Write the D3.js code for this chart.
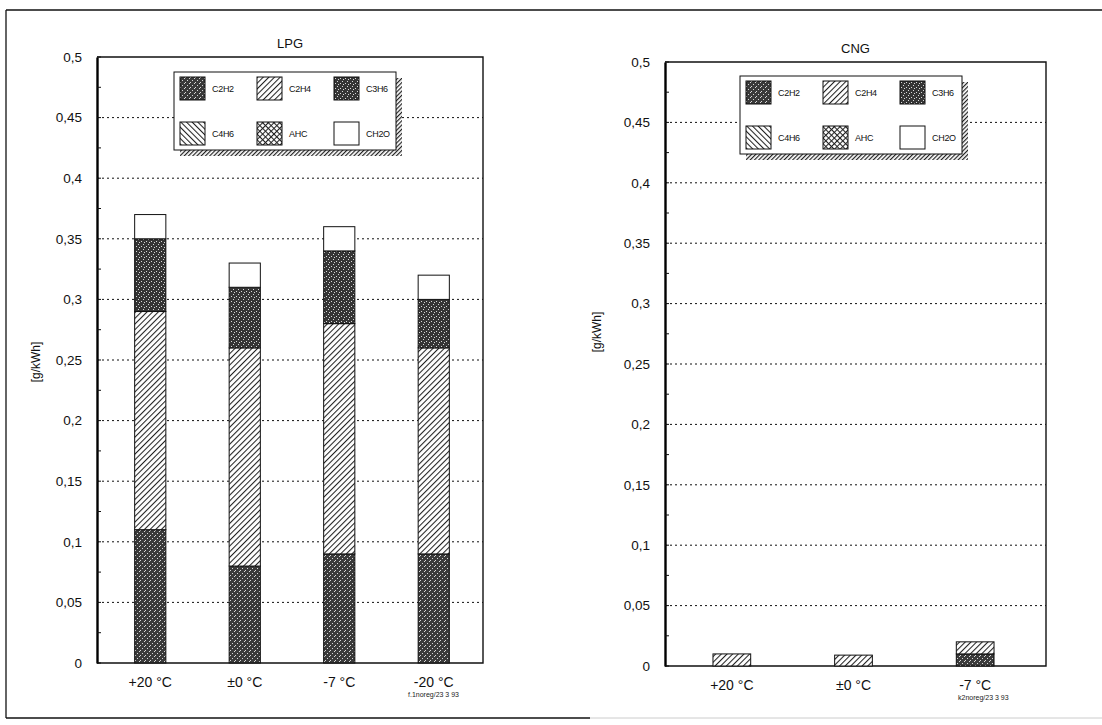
<!DOCTYPE html>
<html>
<head>
<meta charset="utf-8">
<script src="https://cdn.jsdelivr.net/npm/d3@7"></script>
<style>
  html, body { margin: 0; padding: 0; background: #fff; }
  svg { display: block; font-family: "Liberation Sans", Arial, sans-serif; }
</style>
</head>
<body>
<div id="chart"></div>
<script>
// series (stack order, bottom to top)
const seriesNames = ['C2H2', 'C2H4', 'C3H6', 'C4H6', 'AHC', 'CH2O'];

// LPG panel
const lpgCategories = ['+20 °C', '±0 °C', '-7 °C', '-20 °C'];
const lpgC2H2 = [0.11, 0.08, 0.09, 0.09];
const lpgC2H4 = [0.18, 0.18, 0.19, 0.17];
const lpgC3H6 = [0.06, 0.05, 0.06, 0.04];
const lpgC4H6 = [0, 0, 0, 0];
const lpgAHC = [0, 0, 0, 0];
const lpgCH2O = [0.02, 0.02, 0.02, 0.02];

// CNG panel
const cngCategories = ['+20 °C', '±0 °C', '-7 °C'];
const cngC2H2 = [0, 0, 0.01];
const cngC2H4 = [0.01, 0.009, 0.01];
const cngC3H6 = [0, 0, 0];
const cngC4H6 = [0, 0, 0];
const cngAHC = [0, 0, 0];
const cngCH2O = [0, 0, 0];

const yTicks = [0, 0.05, 0.1, 0.15, 0.2, 0.25, 0.3, 0.35, 0.4, 0.45, 0.5];

const W = 1102, H = 725;
const svg = d3.select('#chart').append('svg')
  .attr('width', W).attr('height', H);

// fill patterns that imitate the printed hatching
const defs = svg.append('defs');

function stipple(id, base, dots) {
  const p = defs.append('pattern').attr('id', id)
    .attr('width', 5).attr('height', 5).attr('patternUnits', 'userSpaceOnUse');
  p.append('rect').attr('width', 5).attr('height', 5).attr('fill', base);
  dots.forEach(([x, y]) => p.append('rect')
    .attr('x', x).attr('y', y).attr('width', 1).attr('height', 1).attr('fill', '#d8d8d8'));
}
stipple('pC2H2', '#3a3a3a', [[0, 0], [2, 3], [4, 1]]);
stipple('pC3H6', '#353535', [[1, 1], [3, 4], [4, 2]]);

function hatch(id, angle, gap, sw) {
  const p = defs.append('pattern').attr('id', id)
    .attr('width', gap).attr('height', gap).attr('patternUnits', 'userSpaceOnUse')
    .attr('patternTransform', `rotate(${angle})`);
  p.append('rect').attr('width', gap).attr('height', gap).attr('fill', '#fff');
  p.append('line').attr('x1', 0.5).attr('y1', 0).attr('x2', 0.5).attr('y2', gap)
    .attr('stroke', '#222').attr('stroke-width', sw);
}
hatch('pC2H4', 45, 4, 1.1);
hatch('pC4H6', -45, 4, 1.1);

const ahc = defs.append('pattern').attr('id', 'pAHC')
  .attr('width', 4).attr('height', 4).attr('patternUnits', 'userSpaceOnUse')
  .attr('patternTransform', 'rotate(45)');
ahc.append('rect').attr('width', 4).attr('height', 4).attr('fill', '#fff');
ahc.append('line').attr('x1', 0.5).attr('y1', 0).attr('x2', 0.5).attr('y2', 4).attr('stroke', '#222').attr('stroke-width', 1.1);
ahc.append('line').attr('x1', 0).attr('y1', 0.5).attr('x2', 4).attr('y2', 0.5).attr('stroke', '#222').attr('stroke-width', 1.1);

hatch('pShadow', 45, 3, 1.4);

const fills = {
  C2H2: 'url(#pC2H2)', C2H4: 'url(#pC2H4)', C3H6: 'url(#pC3H6)',
  C4H6: 'url(#pC4H6)', AHC: 'url(#pAHC)', CH2O: '#fff'
};

// outer page frame
svg.append('line').attr('x1', 6).attr('y1', 10).attr('x2', W).attr('y2', 10)
  .attr('stroke', '#111').attr('stroke-width', 1.3);
svg.append('line').attr('x1', 6).attr('y1', 10).attr('x2', 6).attr('y2', 718)
  .attr('stroke', '#111').attr('stroke-width', 1.3);
svg.append('line').attr('x1', 6).attr('y1', 718).attr('x2', 590).attr('y2', 718)
  .attr('stroke', '#111').attr('stroke-width', 1.3);
svg.append('line').attr('x1', 590).attr('y1', 718).attr('x2', W).attr('y2', 718)
  .attr('stroke', '#ccc').attr('stroke-width', 1);

function drawPanel(cfg) {
  const rows = cfg.categories.map((c, i) => {
    const r = { cat: c };
    seriesNames.forEach(s => r[s] = cfg.values[s][i]);
    return r;
  });
  const stacked = d3.stack().keys(seriesNames)(rows);

  const x = d3.scaleBand().domain(cfg.categories)
    .range(cfg.band).paddingInner(cfg.pad).paddingOuter(cfg.pad / 2);
  const y = d3.scaleLinear().domain([0, 0.5]).range([cfg.bottom, cfg.top]);

  const g = svg.append('g');

  // dotted grid
  g.append('g').selectAll('line')
    .data(yTicks.filter(t => t > 0 && t < 0.5))
    .join('line')
    .attr('x1', cfg.left).attr('x2', cfg.right)
    .attr('y1', d => y(d)).attr('y2', d => y(d))
    .attr('stroke', '#111').attr('stroke-width', 1)
    .attr('stroke-dasharray', '2 3');

  // plot frame (top, right, bottom)
  g.append('path')
    .attr('d', `M${cfg.left},${cfg.top}H${cfg.right}V${cfg.bottom}H${cfg.left}`)
    .attr('fill', 'none').attr('stroke', '#111').attr('stroke-width', 1.4);

  // bars
  g.append('g').selectAll('g')
    .data(stacked)
    .join('g')
    .attr('fill', d => fills[d.key])
    .selectAll('rect')
    .data(d => d.filter(p => p[1] - p[0] > 0))
    .join('rect')
    .attr('x', d => x(d.data.cat))
    .attr('width', x.bandwidth())
    .attr('y', d => y(d[1]))
    .attr('height', d => y(d[0]) - y(d[1]))
    .attr('stroke', '#111').attr('stroke-width', 1);

  // y axis
  const axis = g.append('g').attr('transform', `translate(${cfg.left},0)`)
    .call(d3.axisLeft(y).tickValues(yTicks).tickSize(0).tickPadding(15)
      .tickFormat(d => d3.format('~g')(d).replace('.', ',')));
  axis.select('.domain').attr('stroke', '#000').attr('stroke-width', 2.4);
  axis.selectAll('.tick text').attr('font-size', 13.5).attr('fill', '#111')
    .attr('font-family', '"Liberation Sans", Arial, sans-serif');

  // small inner ticks
  g.append('g').selectAll('line')
    .data(d3.range(0, 0.5001, 0.025))
    .join('line')
    .attr('x1', cfg.left).attr('x2', cfg.left + 4)
    .attr('y1', d => y(d)).attr('y2', d => y(d))
    .attr('stroke', '#111').attr('stroke-width', 1);

  // x axis labels
  g.append('g').selectAll('text')
    .data(cfg.categories)
    .join('text')
    .attr('x', d => x(d) + x.bandwidth() / 2)
    .attr('y', cfg.bottom + 24)
    .attr('text-anchor', 'middle')
    .attr('font-size', 14).attr('fill', '#111')
    .text(d => d);

  // title
  g.append('text')
    .attr('x', (cfg.left + cfg.right) / 2).attr('y', cfg.top - 9)
    .attr('text-anchor', 'middle').attr('font-size', 13).attr('fill', '#111')
    .text(cfg.title);

  // y label
  g.append('text')
    .attr('transform', `translate(${cfg.yLabelX},${cfg.yLabelY}) rotate(-90)`)
    .attr('text-anchor', 'middle').attr('font-size', 12).attr('fill', '#111')
    .text('[g/kWh]');

  // footnote
  g.append('text')
    .attr('x', cfg.noteX).attr('y', cfg.bottom + 34)
    .attr('font-size', 7).attr('fill', '#222')
    .text(cfg.note);

  // legend with hatched drop shadow
  const lg = g.append('g').attr('transform', `translate(${cfg.legendX},${cfg.legendY})`);
  const lw = 222, lh = 78;
  lg.append('rect').attr('x', 6).attr('y', 6).attr('width', lw).attr('height', lh)
    .attr('fill', 'url(#pShadow)');
  lg.append('rect').attr('width', lw).attr('height', lh)
    .attr('fill', '#fff').attr('stroke', '#111').attr('stroke-width', 1);
  const items = lg.selectAll('g.item')
    .data(seriesNames)
    .join('g')
    .attr('class', 'item')
    .attr('transform', (d, i) => `translate(${6 + (i % 3) * 77},${i < 3 ? 5 : 50})`);
  items.append('rect').attr('width', 25).attr('height', 23)
    .attr('fill', d => fills[d]).attr('stroke', '#111').attr('stroke-width', 1);
  items.append('text').attr('x', 32).attr('y', 15)
    .attr('font-size', 9).attr('letter-spacing', -0.3).attr('fill', '#111')
    .text(d => d);
}

drawPanel({
  title: 'LPG',
  categories: lpgCategories,
  values: { C2H2: lpgC2H2, C2H4: lpgC2H4, C3H6: lpgC3H6, C4H6: lpgC4H6, AHC: lpgAHC, CH2O: lpgCH2O },
  left: 97, right: 483, top: 57, bottom: 663,
  band: [103, 481], pad: 0.67,
  yLabelX: 40, yLabelY: 362,
  noteX: 408, note: 'f.1noreg/23 3 93',
  legendX: 174, legendY: 72
});

drawPanel({
  title: 'CNG',
  categories: cngCategories,
  values: { C2H2: cngC2H2, C2H4: cngC2H4, C3H6: cngC3H6, C4H6: cngC4H6, AHC: cngAHC, CH2O: cngCH2O },
  left: 665, right: 1046, top: 62, bottom: 666,
  band: [671, 1036], pad: 0.69,
  yLabelX: 601, yLabelY: 332,
  noteX: 958, note: 'k2noreg/23 3 93',
  legendX: 740, legendY: 76
});
</script>
</body>
</html>
